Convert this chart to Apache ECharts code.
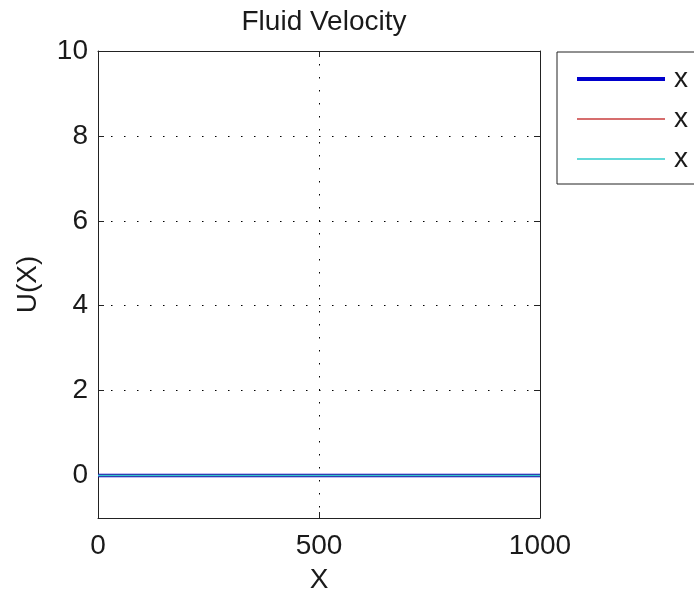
<!DOCTYPE html>
<html>
<head>
<meta charset="utf-8">
<script src="https://cdn.jsdelivr.net/npm/echarts@6/dist/echarts.min.js"></script>
<style>html,body{margin:0;padding:0;background:#fff;}#c{width:694px;height:599px;}</style>
</head>
<body>
<div id="c"></div>
<script>
const titleText = 'Fluid Velocity';
const xAxisName = 'X';
const yAxisName = 'U(X)';
const xValues = [0, 250, 500, 750, 1000];
const seriesNames = ['x1', 'x2', 'x3'];
const legendLabels = ['x', 'x', 'x'];
const series1 = [0, 0, 0, 0, 0];
const series2 = [0, 0, 0, 0, 0];
const series3 = [0, 0, 0, 0, 0];
const xTicks = [0, 500, 1000];
const yTicks = [0, 2, 4, 6, 8, 10];

const FONT = 'Liberation Sans, Arial, sans-serif';
const colors = ['#0000cc', '#c83c3c', '#30cccc'];
const widths = [3.5, 1.5, 1.5];
const values = [series1, series2, series3];

const chart = echarts.init(document.getElementById('c'), null, {renderer: 'canvas'});
const dottedStyle = {color: '#000', width: 1, type: [1.5, 11.5]};
const axisLineStyle = {show: true, onZero: false, lineStyle: {color: '#222', width: 1}};
const tickStyle = {show: true, inside: true, length: 6, lineStyle: {color: '#222'}};

const option = {
  animation: false,
  backgroundColor: '#fff',
  title: {
    text: titleText, left: 319, textAlign: 'center', top: 3,
    textStyle: {fontFamily: FONT, fontSize: 28, fontWeight: 'normal', color: '#1a1a1a'}
  },
  grid: {left: 98, right: 154, top: 51, bottom: 78, containLabel: false},
  legend: {
    orient: 'vertical', left: 557, top: 52,
    padding: [13, 40, 11, 18], itemGap: 12,
    itemWidth: 88, itemHeight: 28,
    borderColor: '#222', borderWidth: 1, backgroundColor: '#fff',
    data: seriesNames.map((n, i) => ({name: n, itemStyle: {opacity: 0}, lineStyle: {width: i === 0 ? 4 : 1.5, opacity: 1}})),
    formatter: (n) => legendLabels[seriesNames.indexOf(n)],
    textStyle: {fontFamily: FONT, fontSize: 28, color: '#1a1a1a', padding: [0, 0, 0, 4]},
    selectedMode: false
  },
  xAxis: [{
    type: 'value', min: 0, max: 1000, interval: 500,
    name: xAxisName, nameLocation: 'middle', nameGap: 48,
    nameTextStyle: {fontFamily: FONT, fontSize: 28, color: '#1a1a1a'},
    axisLine: axisLineStyle,
    axisTick: tickStyle,
    axisLabel: {fontFamily: FONT, fontSize: 28, color: '#1a1a1a', margin: 14,
      formatter: (v) => xTicks.indexOf(v) >= 0 ? String(v) : ''},
    splitLine: {show: true, lineStyle: dottedStyle, showMinLine: false, showMaxLine: false}
  }, {
    type: 'value', min: 0, max: 1000, interval: 500, position: 'top',
    axisLine: axisLineStyle,
    axisTick: tickStyle,
    axisLabel: {show: false}, splitLine: {show: false}
  }],
  yAxis: [{
    type: 'value', min: -1, max: 10, minInterval: 2, maxInterval: 2,
    name: yAxisName, nameLocation: 'middle', nameGap: 56, nameRotate: 90,
    nameTextStyle: {fontFamily: FONT, fontSize: 28, color: '#1a1a1a'},
    axisLine: axisLineStyle,
    axisTick: tickStyle,
    axisLabel: {fontFamily: FONT, fontSize: 28, color: '#1a1a1a', margin: 10,
      formatter: (v) => yTicks.indexOf(v) >= 0 ? String(v) : ''},
    splitLine: {show: true, lineStyle: dottedStyle, showMinLine: false, showMaxLine: false}
  }, {
    type: 'value', min: -1, max: 10, minInterval: 2, maxInterval: 2, position: 'right',
    axisLine: axisLineStyle,
    axisTick: tickStyle,
    axisLabel: {show: false}, splitLine: {show: false}
  }],
  series: values.map((vals, i) => ({
    name: seriesNames[i], type: 'line', xAxisIndex: 0, yAxisIndex: 0,
    data: xValues.map((x, j) => [x, vals[j]]),
    showSymbol: false, symbol: 'none',
    lineStyle: {color: colors[i], width: widths[i]},
    itemStyle: {color: colors[i]},
    z: 2 + i
  }))
};
chart.setOption(option);
</script>
</body>
</html>
